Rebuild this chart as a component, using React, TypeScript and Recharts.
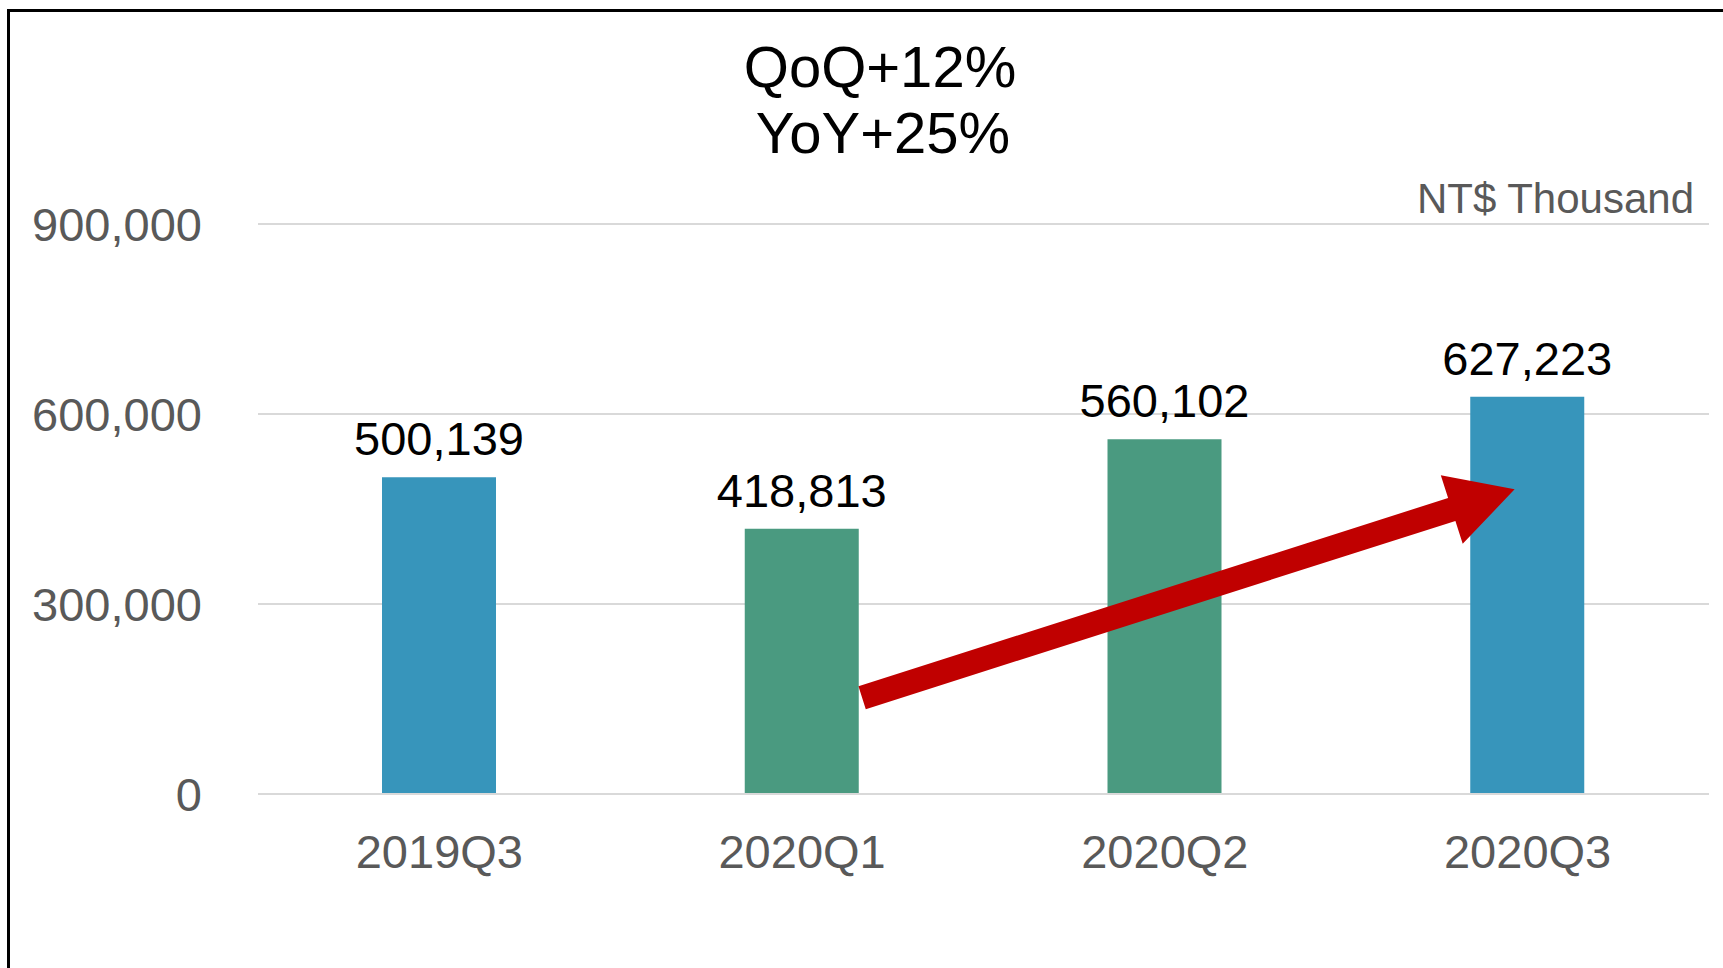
import { Bar, BarChart, CartesianGrid, Cell, LabelList, ReferenceLine, XAxis, YAxis } from "recharts";

const categories = ["2019Q3", "2020Q1", "2020Q2", "2020Q3"];
const revenue = [500139, 418813, 560102, 627223];
const barColors = ["#3795bb", "#4a9a80", "#4a9a80", "#3795bb"];
const yTicks = [0, 300000, 600000, 900000];
const titleLines = ["QoQ+12%", "YoY+25%"];
const unitLabel = "NT$ Thousand";
// arrow runs from the 2020Q1 bar up to the 2020Q3 bar
const arrowFrom = { x: "2020Q1", y: 152000 };
const arrowTo = { x: "2020Q3", y: 481000 };

const FONT = "'Liberation Sans', Arial, sans-serif";
const GREY = "#595959";

const data = categories.map((name, i) => ({ name, value: revenue[i], color: barColors[i] }));

const fmt = (v: unknown) => (typeof v === "number" ? v.toLocaleString("en-US") : String(v));

function GrowthArrow(props: any) {
  const { x1, y1, x2, y2 } = props;
  // tail starts at the right edge of the Q1 bar, tip lands just left of Q3 centre
  const sx = x1 + 60;
  const sy = y1;
  const ex = x2 - 13;
  const ey = y2;
  const len = Math.hypot(ex - sx, ey - sy);
  const ux = (ex - sx) / len;
  const uy = (ey - sy) / len;
  const nx = -uy;
  const ny = ux;
  const w = 12;
  const headLen = 66;
  const headW = 36;
  const bx = ex - ux * headLen;
  const by = ey - uy * headLen;
  const pts = [
    [sx + nx * w, sy + ny * w],
    [bx + nx * w, by + ny * w],
    [bx + nx * headW, by + ny * headW],
    [ex, ey],
    [bx - nx * headW, by - ny * headW],
    [bx - nx * w, by - ny * w],
    [sx - nx * w, sy - ny * w],
  ]
    .map((p) => p.join(","))
    .join(" ");
  return <polygon points={pts} fill="#c00000" />;
}

export default function App() {
  return (
    <div
      style={{
        position: "absolute",
        left: 0,
        top: 0,
        width: 1723,
        height: 968,
        background: "#fff",
        overflow: "hidden",
        fontFamily: FONT,
      }}
    >
      <div
        style={{
          position: "absolute",
          left: 7,
          top: 9,
          width: 1800,
          height: 1000,
          borderTop: "3px solid #000",
          borderLeft: "3px solid #000",
        }}
      />
      <div style={{ position: "absolute", left: 0, top: 0 }}>
        <BarChart
          width={1723}
          height={968}
          data={data}
          margin={{ top: 224, right: 14, bottom: 74, left: 0 }}
          barSize={114}
        >
          <CartesianGrid vertical={false} stroke="#d9d9d9" strokeWidth={2} />
          <XAxis
            dataKey="name"
            height={100}
            tickSize={0}
            tickMargin={41}
            axisLine={{ stroke: "#d9d9d9", strokeWidth: 2 }}
            tickLine={false}
            tick={{ fill: GREY, fontSize: 47, fontFamily: FONT }}
          />
          <YAxis
            width={258}
            domain={[0, 900000]}
            ticks={yTicks}
            tickFormatter={fmt}
            tickSize={0}
            tickMargin={56}
            axisLine={false}
            tickLine={false}
            tick={{ fill: GREY, fontSize: 47, fontFamily: FONT }}
          />
          <Bar dataKey="value" isAnimationActive={false}>
            {data.map((d) => (
              <Cell key={d.name} fill={d.color} />
            ))}
            <LabelList
              dataKey="value"
              position="top"
              offset={22}
              formatter={fmt}
              fill="#000"
              fontSize={47}
              fontFamily={FONT}
            />
          </Bar>
          <ReferenceLine
            segment={[arrowFrom, arrowTo]}
            ifOverflow="visible"
            shape={GrowthArrow}
          />
        </BarChart>
      </div>
      <svg
        width={1723}
        height={968}
        style={{ position: "absolute", left: 0, top: 0, pointerEvents: "none" }}
      >
        <text x={880} y={87} textAnchor="middle" fontSize={58} fontFamily={FONT} fill="#000">
          {titleLines[0]}
        </text>
        <text x={883} y={153} textAnchor="middle" fontSize={58} fontFamily={FONT} fill="#000">
          {titleLines[1]}
        </text>
        <text x={1694} y={213} textAnchor="end" fontSize={42} fontFamily={FONT} fill={GREY}>
          {unitLabel}
        </text>
      </svg>
    </div>
  );
}
